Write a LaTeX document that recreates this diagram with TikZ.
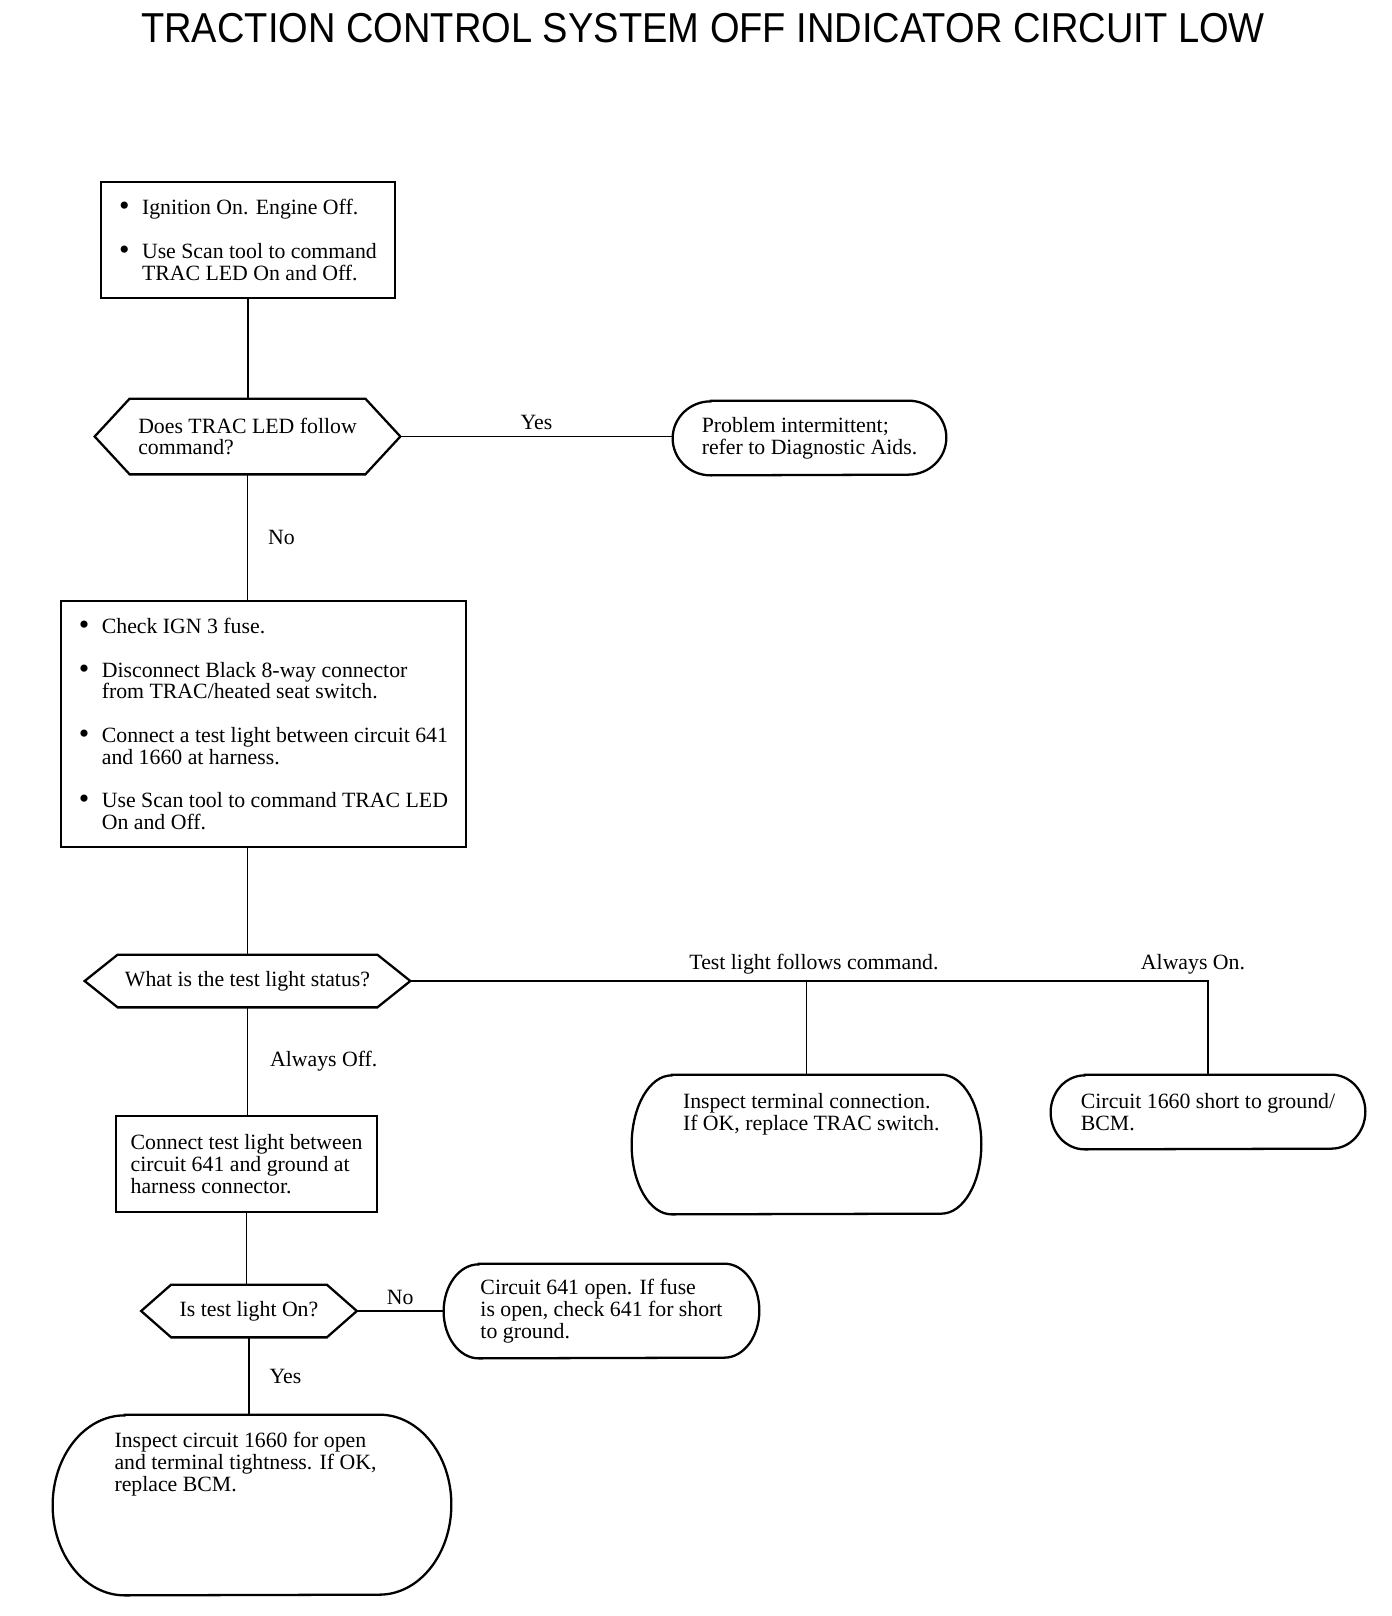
\documentclass[tikz,border=0pt]{standalone}
\usepackage{fontspec}
\setmainfont{Liberation Serif}
\newfontfamily\headfont[FakeStretch=0.91]{Liberation Sans}
\usetikzlibrary{positioning}

\newcommand{\bul}{\makebox[13pt][l]{\raisebox{-0.5pt}{\fontsize{17}{12}\selectfont\textbullet}}}
\newcommand{\hangsp}{\hspace*{13pt}}
\newcommand{\toptext}[3]{\parbox[c][#2][t]{#1}{\begin{tabular}{@{}l@{}}#3\end{tabular}}}
% outlines of the question and end nodes
\newcommand{\hexout}[2]{\draw[shapeline] (#1.west) -- ([xshift=#2]#1.north west) -- ([xshift=-#2]#1.north east) -- (#1.east) -- ([xshift=-#2]#1.south east) -- ([xshift=#2]#1.south west) -- cycle;}
\newcommand{\termout}[3]{\draw[shapeline] ([xshift=#2]#1.north west) -- ([xshift=-#2]#1.north east) arc[start angle=90,end angle=-90,x radius=#2,y radius=#3] -- ([xshift=#2]#1.south west) arc[start angle=270,end angle=90,x radius=#2,y radius=#3] -- cycle;}

\tikzset{
  every node/.style={font=\fontsize{12.4}{12.4}\selectfont},
  box/.style={draw, line width=1.3pt, align=left, inner sep=0pt},
  ask/.style={align=left, inner sep=0pt},
  stopbox/.style={align=left, inner sep=0pt},
  link/.style={line width=0.8pt},
  shapeline/.style={line width=1.3pt},
}

\begin{document}
\begin{tikzpicture}
\useasboundingbox (0,0) rectangle (27.84,-32.32);
\node[font=\headfont\fontsize{23.8}{26}\selectfont] (title) at (14.06,-0.56) {TRACTION CONTROL SYSTEM OFF INDICATOR CIRCUIT LOW};

\node[box, minimum width=5.88cm, minimum height=2.32cm] (chk1) at (4.96,-4.80) {\bul Ignition On. Engine Off.\\[12.3pt]\bul Use Scan tool to command\\\hangsp TRAC LED On and Off.};
\node[ask, minimum width=6.10cm, minimum height=1.50cm] (q1) at (4.95,-8.73) {Does TRAC LED follow\\command?};
\node[stopbox, minimum width=5.46cm, minimum height=1.48cm] (intm) at (16.19,-8.76) {Problem intermittent;\\refer to Diagnostic Aids.};
\node[box, minimum width=8.10cm, minimum height=4.92cm] (chk2) at (5.27,-14.48) {\bul Check IGN 3 fuse.\\[12.3pt]\bul Disconnect Black 8-way connector\\\hangsp from TRAC/heated seat switch.\\[12.3pt]\bul Connect a test light between circuit 641\\\hangsp and 1660 at harness.\\[12.3pt]\bul Use Scan tool to command TRAC LED\\\hangsp On and Off.};
\node[ask, minimum width=6.50cm, minimum height=1.04cm] (q2) at (4.95,-19.62) {What is the test light status?};
\node[stopbox, minimum width=6.98cm, minimum height=2.78cm] (sw) at (16.13,-22.89) {\toptext{4.94cm}{2.06cm}{Inspect terminal connection.\\If OK, replace TRAC switch.}};
\node[stopbox, minimum width=6.28cm, minimum height=1.48cm] (bcm1) at (24.16,-22.24) {Circuit 1660 short to ground/\\BCM.};
\node[box, minimum width=5.22cm, minimum height=1.92cm] (chk3) at (4.93,-23.28) {Connect test light between\\circuit 641 and ground at\\harness connector.};
\node[ask, minimum width=4.30cm, minimum height=1.04cm] (q3) at (4.98,-26.22) {Is test light On?};
\node[stopbox, minimum width=6.30cm, minimum height=1.88cm] (open641) at (12.03,-26.22) {Circuit 641 open. If fuse\\is open, check 641 for short\\to ground.};
\node[stopbox, minimum width=7.96cm, minimum height=3.60cm] (bcm2) at (5.04,-30.10) {\toptext{5.5cm}{2.92cm}{Inspect circuit 1660 for open\\and terminal tightness. If OK,\\replace BCM.}};

\hexout{q1}{0.70cm}
\hexout{q2}{0.66cm}
\hexout{q3}{0.60cm}
\termout{intm}{0.76cm}{0.74cm}
\termout{sw}{0.80cm}{1.39cm}
\termout{bcm1}{0.68cm}{0.74cm}
\termout{open641}{0.70cm}{0.94cm}
\termout{bcm2}{1.44cm}{1.80cm}

\draw[link] (chk1.south) -- (chk1.south |- q1.north);
\draw[link] (q1.east) -- node[above] (yes1) {Yes} (q1.east -| intm.west);
\draw[link] (q1.south) -- node[right=0.28cm] (no1) {No} (q1.south |- chk2.north);
\draw[link] (q1.south |- chk2.south) -- (q2.north);
\coordinate (br) at (sw.north |- q2.east);
\draw[link] (q2.east) -- (br) node[above, xshift=0.15cm] (follows) {Test light follows command.} -| node[pos=0.5, above, xshift=-0.3cm] (alwon) {Always On.} (bcm1.north);
\draw[link] (br) -- (sw.north);
\draw[link] (q2.south) -- node[right=0.32cm] (alwoff) {Always Off.} (q2.south |- chk3.north);
\draw[link] (chk3.south) -- (chk3.south |- q3.north);
\draw[link] (q3.east) -- node[above] (no2) {No} (q3.east -| open641.west);
\draw[link] (q3.south) -- node[right=0.28cm] (yes2) {Yes} (q3.south |- bcm2.north);
\end{tikzpicture}
\end{document}
